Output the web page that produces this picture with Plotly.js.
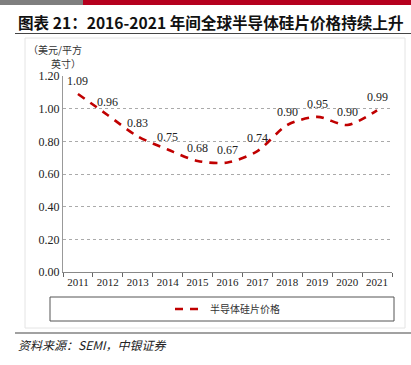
<!DOCTYPE html>
<html><head><meta charset="utf-8">
<script src="https://cdn.plot.ly/plotly-3.0.1.min.js"></script>
<style>body{margin:0;padding:0;background:#fff}#c{width:411px;height:365px}</style>
</head><body><div id="c"></div>
<script>
const years = ['2011','2012','2013','2014','2015','2016','2017','2018','2019','2020','2021'];
const prices = [1.09,0.96,0.83,0.75,0.68,0.67,0.74,0.90,0.95,0.90,0.99];
const seriesName = '半导体硅片价格';
const yTicks = [0,0.2,0.4,0.6,0.8,1.0,1.2];
const yTickText = ['0.00','0.20','0.40','0.60','0.80','1.00','1.20'];

const L=63, R=392, T=76, B=272, W=411, H=365;
const px = x => (x-L)/(R-L);
const py = y => (B-y)/(B-T);
const serif = 'Liberation Serif, Times New Roman, serif';
const cjk = 'Noto Sans CJK SC, sans-serif';

const trace = {
  x: years, y: prices, type:'scatter', mode:'lines', name: seriesName,
  line:{color:'#C00000', width:2.6, dash:'8px,7px', shape:'spline', smoothing:0.8}
};

const labelAnns = years.map((yr,i)=>({
  x: i, y: prices[i], xref:'x', yref:'y', text: prices[i].toFixed(2), showarrow:false,
  yshift:13, xanchor:'center', yanchor:'middle', font:{family:serif, size:12, color:'#222'}
}));

const layout = {
  width:W, height:H, margin:{l:L, r:W-R, t:T, b:H-B},
  paper_bgcolor:'#fff', plot_bgcolor:'#fff',
  showlegend:true,
  legend:{orientation:'h', x:0.5, xanchor:'center', y:py(309), yanchor:'middle',
    font:{family:cjk, size:10, color:'#333'}, bgcolor:'rgba(0,0,0,0)'},
  xaxis:{type:'category', range:[-0.5,10.5], showgrid:false, showline:true, linecolor:'#888', linewidth:1,
    ticks:'outside', ticklen:4, tickcolor:'#666', tickson:'boundaries', tickangle:0,
    tickfont:{family:serif, size:11, color:'#222'}, fixedrange:true},
  yaxis:{range:[0,1.2], tickvals:yTicks, ticktext:yTickText, showgrid:true, gridcolor:'#aaa', griddash:'dot',
    gridwidth:1, showline:true, linecolor:'#999', zeroline:false, ticks:'',
    tickfont:{family:serif, size:12, color:'#222'}, fixedrange:true},
  shapes:[
    {type:'rect', xref:'paper', yref:'paper', x0:px(0), x1:px(83), y0:py(0), y1:py(5), fillcolor:'#7f7f7f', line:{width:0}, layer:'below'},
    {type:'rect', xref:'paper', yref:'paper', x0:px(83), x1:px(411), y0:py(0), y1:py(5), fillcolor:'#B5001E', line:{width:0}, layer:'below'},
    {type:'line', xref:'paper', yref:'paper', x0:px(15), x1:px(411), y0:py(33.5), y1:py(33.5), line:{color:'#444', width:1.2}},
    {type:'rect', xref:'paper', yref:'paper', x0:px(25), x1:px(405), y0:py(38), y1:py(328), line:{color:'#e4e4e4', width:1}, layer:'below'},
    {type:'rect', xref:'paper', yref:'paper', x0:px(50), x1:px(394), y0:py(297), y1:py(321), line:{color:'#555', width:1}},
    {type:'line', xref:'paper', yref:'paper', x0:px(15), x1:px(411), y0:py(333), y1:py(333), line:{color:'#444', width:1.2}}
  ],
  annotations:labelAnns.concat([
    {xref:'paper', yref:'paper', x:px(16), y:py(22), xanchor:'left', yanchor:'middle', showarrow:false,
      text:'<b>图表 21：2016-2021 年间全球半导体硅片价格持续上升</b>', font:{family:'Noto Sans CJK SC, Liberation Serif, serif', size:15.6, color:'#111'}},
    {xref:'paper', yref:'paper', x:px(26), y:py(49), xanchor:'left', yanchor:'middle', showarrow:false,
      text:'（美元/平方', font:{family:cjk, size:10, color:'#333'}},
    {xref:'paper', yref:'paper', x:px(49), y:py(64), xanchor:'left', yanchor:'middle', showarrow:false,
      text:'英寸）', font:{family:cjk, size:10, color:'#333'}},
    {xref:'paper', yref:'paper', x:px(16), y:py(344), xanchor:'left', yanchor:'middle', showarrow:false,
      text:'<i>资料来源：SEMI，中银证券</i>', font:{family:'Noto Sans CJK SC, Liberation Serif, serif', size:12, color:'#222'}}
  ])
};
Plotly.newPlot('c',[trace],layout,{staticPlot:true, displayModeBar:false});
</script></body></html>
